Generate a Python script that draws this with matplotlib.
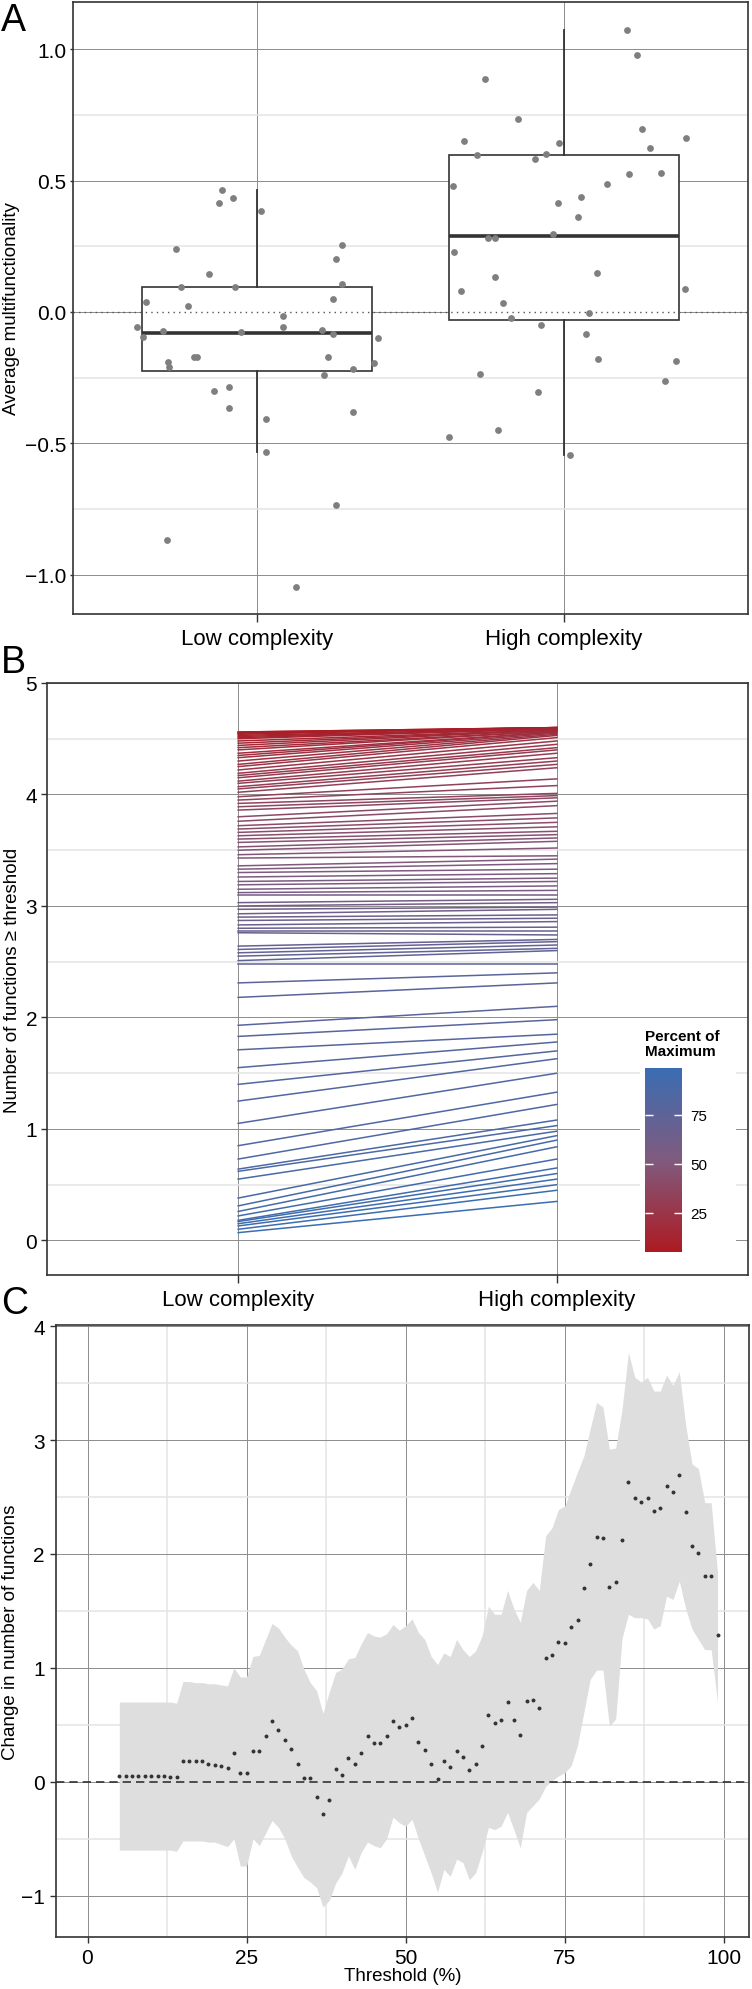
import numpy as np
import matplotlib
matplotlib.use("Agg")
import matplotlib.pyplot as plt
from matplotlib.ticker import MultipleLocator
from matplotlib.colors import LinearSegmentedColormap, Normalize
from matplotlib.cm import ScalarMappable
from matplotlib.patches import Rectangle

plt.rcParams['font.family'] = ['Liberation Sans', 'DejaVu Sans']

# ---- panel A: average multifunctionality per plot ----
groups = ["Low complexity", "High complexity"]

low_jitter = [-0.114, -0.123, -0.079, 0.013, -0.263, -0.156, -0.249, -0.071, -0.361, -0.226,
              0.277, 0.257, 0.278, 0.248, 0.083, -0.393, -0.372, -0.306, -0.051, 0.083,
              0.213, 0.247, 0.395, 0.380, -0.290, -0.287, -0.207, -0.196, 0.230, 0.217,
              0.313, -0.139, -0.091, -0.091, 0.313, 0.028, 0.028, 0.257, -0.294, 0.128]
low_values = [0.464, 0.413, 0.433, 0.383, 0.238, 0.146, 0.094, 0.094, 0.037, 0.023,
              0.254, 0.200, 0.106, 0.051, -0.016, -0.058, -0.094, -0.071, -0.077, -0.058,
              -0.068, -0.084, -0.100, -0.196, -0.190, -0.208, -0.172, -0.172, -0.172, -0.241,
              -0.219, -0.300, -0.286, -0.366, -0.380, -0.408, -0.534, -0.734, -0.867, -1.047]

high_jitter = [0.205, 0.238, -0.256, -0.149, 0.256, 0.397, -0.326, 0.279, -0.016, -0.282,
               -0.059, -0.095, 0.211, 0.317, 0.140, -0.360, 0.057, -0.020, 0.045, -0.036,
               -0.246, -0.225, -0.358, 0.108, -0.225, -0.335, 0.396, -0.199, 0.082, -0.174,
               -0.075, 0.072, 0.111, 0.365, -0.274, 0.328, -0.084, -0.215, -0.373, 0.019]
high_values = [1.072, 0.980, 0.885, 0.736, 0.696, 0.663, 0.650, 0.626, 0.643, 0.597,
               0.601, 0.582, 0.527, 0.529, 0.488, 0.480, 0.436, 0.416, 0.361, 0.295,
               0.283, 0.283, 0.229, 0.147, 0.134, 0.080, 0.087, 0.034, -0.005, -0.023,
               -0.048, -0.084, -0.181, -0.185, -0.235, -0.262, -0.303, -0.448, -0.478, -0.546]

# box summaries (q1, median, q3, whisker low, whisker high)
box_q1 = [-0.224, -0.030]
box_med = [-0.079, 0.288]
box_q3 = [0.095, 0.597]
box_lo = [-0.534, -0.546]
box_hi = [0.464, 1.072]

# ---- panel B: number of functions >= threshold, low vs high ----
thresholds = list(range(5, 100))
n_low = [4.56, 4.56, 4.55, 4.55, 4.54, 4.53, 4.52, 4.51, 4.50, 4.48,
         4.46, 4.44, 4.42, 4.40, 4.37, 4.35, 4.33, 4.30, 4.27, 4.25,
         4.22, 4.19, 4.17, 4.15, 4.12, 4.10, 4.07, 4.05, 4.02, 3.98,
         3.95, 3.92, 3.89, 3.86, 3.80, 3.76, 3.72, 3.69, 3.66, 3.63,
         3.60, 3.57, 3.53, 3.50, 3.46, 3.43, 3.36, 3.33, 3.30, 3.26,
         3.22, 3.19, 3.15, 3.12, 3.10, 3.03, 3.00, 2.97, 2.93, 2.90,
         2.87, 2.83, 2.80, 2.78, 2.76, 2.64, 2.61, 2.58, 2.55, 2.51,
         2.48, 2.31, 2.18, 1.93, 1.83, 1.71, 1.55, 1.40, 1.25, 1.05,
         0.85, 0.73, 0.64, 0.62, 0.55, 0.38, 0.31, 0.26, 0.22, 0.18,
         0.17, 0.15, 0.13, 0.10, 0.07]
n_high = [4.60, 4.60, 4.60, 4.60, 4.60, 4.59, 4.59, 4.59, 4.59, 4.58,
          4.58, 4.58, 4.57, 4.57, 4.56, 4.56, 4.55, 4.54, 4.53, 4.51,
          4.48, 4.45, 4.42, 4.40, 4.37, 4.33, 4.30, 4.27, 4.24, 4.14,
          4.08, 4.01, 3.99, 3.97, 3.94, 3.90, 3.83, 3.79, 3.75, 3.71,
          3.67, 3.64, 3.61, 3.58, 3.52, 3.45, 3.42, 3.38, 3.33, 3.29,
          3.25, 3.22, 3.18, 3.14, 3.10, 3.06, 3.03, 2.99, 2.97, 2.92,
          2.89, 2.86, 2.81, 2.78, 2.74, 2.70, 2.68, 2.65, 2.62, 2.60,
          2.48, 2.40, 2.31, 2.10, 1.98, 1.85, 1.78, 1.70, 1.63, 1.50,
          1.33, 1.22, 1.08, 1.03, 0.98, 0.94, 0.90, 0.84, 0.73, 0.65,
          0.60, 0.55, 0.50, 0.45, 0.35]

# ---- panel C: change in number of functions with CI ----
change = [0.05, 0.05, 0.05, 0.05, 0.05, 0.05, 0.05, 0.05, 0.04, 0.04,
          0.18, 0.18, 0.18, 0.18, 0.16, 0.15, 0.14, 0.12, 0.25, 0.08,
          0.08, 0.27, 0.27, 0.40, 0.53, 0.45, 0.37, 0.29, 0.16, 0.03,
          0.03, -0.13, -0.28, -0.16, 0.11, 0.06, 0.21, 0.16, 0.25, 0.40,
          0.34, 0.34, 0.40, 0.53, 0.48, 0.50, 0.56, 0.35, 0.28, 0.16,
          0.02, 0.18, 0.13, 0.27, 0.22, 0.10, 0.16, 0.31, 0.59, 0.52,
          0.54, 0.70, 0.54, 0.41, 0.71, 0.72, 0.65, 1.09, 1.11, 1.23,
          1.22, 1.36, 1.42, 1.70, 1.91, 2.15, 2.14, 1.71, 1.75, 2.12,
          2.63, 2.49, 2.46, 2.49, 2.38, 2.40, 2.60, 2.54, 2.69, 2.37,
          2.07, 2.01, 1.81, 1.81, 1.29]
ci_hi = [0.70, 0.70, 0.70, 0.70, 0.70, 0.70, 0.70, 0.70, 0.70, 0.69,
         0.88, 0.88, 0.87, 0.87, 0.86, 0.86, 0.85, 0.84, 1.00, 0.92,
         0.92, 1.10, 1.11, 1.25, 1.39, 1.35, 1.27, 1.20, 1.15, 0.99,
         0.87, 0.80, 0.60, 0.79, 0.96, 0.99, 1.08, 1.09, 1.21, 1.31,
         1.28, 1.27, 1.30, 1.38, 1.33, 1.37, 1.43, 1.31, 1.25, 1.10,
         1.03, 1.13, 1.10, 1.25, 1.16, 1.10, 1.15, 1.28, 1.54, 1.47,
         1.47, 1.68, 1.52, 1.40, 1.68, 1.75, 1.68, 2.16, 2.23, 2.39,
         2.42, 2.57, 2.72, 2.86, 3.10, 3.33, 3.29, 2.92, 2.93, 3.27,
         3.77, 3.55, 3.51, 3.55, 3.43, 3.43, 3.57, 3.48, 3.60, 3.13,
         2.79, 2.75, 2.45, 2.45, 1.84]
ci_lo = [-0.60, -0.60, -0.60, -0.60, -0.60, -0.60, -0.60, -0.60, -0.60, -0.61,
         -0.52, -0.52, -0.52, -0.52, -0.53, -0.53, -0.55, -0.57, -0.50, -0.74,
         -0.74, -0.50, -0.56, -0.45, -0.34, -0.40, -0.50, -0.65, -0.75, -0.84,
         -0.88, -0.93, -1.10, -1.04, -0.89, -0.80, -0.65, -0.77, -0.62, -0.53,
         -0.56, -0.58, -0.50, -0.31, -0.36, -0.39, -0.33, -0.50, -0.65, -0.80,
         -0.97, -0.77, -0.83, -0.68, -0.71, -0.86, -0.80, -0.62, -0.40, -0.42,
         -0.39, -0.27, -0.42, -0.58, -0.27, -0.21, -0.15, -0.04, 0.01, 0.05,
         0.08, 0.14, 0.32, 0.61, 0.90, 0.98, 0.98, 0.49, 0.55, 1.26,
         1.47, 1.44, 1.44, 1.43, 1.34, 1.37, 1.63, 1.60, 1.76, 1.52,
         1.34, 1.25, 1.16, 1.16, 0.70]

W, H = 752, 1990
fig = plt.figure(figsize=(W / 100, H / 100), dpi=100)


def rect(x0, y0, x1, y1):
    # pixel box (top-left origin) -> figure fraction
    return [x0 / W, 1 - y1 / H, (x1 - x0) / W, (y1 - y0) / H]


def style(ax, ymaj, ymin):
    for s in ax.spines.values():
        s.set_color('#333333')
        s.set_linewidth(1.2)
    ax.yaxis.set_major_locator(MultipleLocator(ymaj))
    ax.yaxis.set_minor_locator(MultipleLocator(ymin))
    ax.tick_params(which='major', labelsize=15, colors='#333333', labelcolor='black', width=1)
    ax.tick_params(which='minor', length=0)
    ax.grid(which='major', color='#8c8c8c', lw=0.7)
    ax.yaxis.grid(which='minor', color='#e4e4e4', lw=1.1)
    ax.set_axisbelow(True)


# ---------------- A ----------------
axA = fig.add_axes(rect(73, 3, 748, 615))
style(axA, 0.5, 0.25)
stats = []
for i in range(2):
    stats.append(dict(q1=box_q1[i], med=box_med[i], q3=box_q3[i],
                      whislo=box_lo[i], whishi=box_hi[i], fliers=[]))
axA.bxp(stats, positions=[1, 2], widths=0.75, patch_artist=True, showfliers=False,
        showcaps=False,
        boxprops=dict(facecolor='white', edgecolor='#333333', lw=1.2),
        medianprops=dict(color='#333333', lw=2.6),
        whiskerprops=dict(color='#333333', lw=1.3))
axA.axhline(0, color='#555555', lw=1.0, ls=(0, (1, 3)), zorder=3)
axA.scatter(1 + np.array(low_jitter), low_values, s=24, color='#7f7f7f', lw=0, zorder=4)
axA.scatter(2 + np.array(high_jitter), high_values, s=24, color='#7f7f7f', lw=0, zorder=4)
axA.set_xlim(0.4, 2.6)
axA.set_ylim(-1.15, 1.18)
axA.set_xticks([1, 2])
axA.set_xticklabels(groups, fontsize=16)
axA.tick_params(axis='x', length=6, pad=4)
axA.tick_params(axis='y', length=2, pad=3)

# ---------------- B ----------------
cmap = LinearSegmentedColormap.from_list('pct', ['#AD1A22', '#805A7E', '#3A6DB2'])
norm = Normalize(5, 99)
axB = fig.add_axes(rect(47, 684, 748, 1276))
style(axB, 1, 0.5)
for t, lo, hi in zip(thresholds, n_low, n_high):
    axB.plot([1, 2], [lo, hi], color=cmap(norm(t)), lw=1.1, zorder=2)
axB.set_xlim(0.4, 2.6)
axB.set_ylim(-0.31, 5.0)
axB.set_xticks([1, 2])
axB.set_xticklabels(groups, fontsize=16)
axB.tick_params(axis='x', length=6, pad=4)
axB.tick_params(axis='y', length=4, pad=3)

fig.patches.append(Rectangle((640 / W, 1 - 1262 / H), 96 / W, 237 / H,
                             transform=fig.transFigure, facecolor='white',
                             edgecolor='none', zorder=1))
cax = fig.add_axes(rect(645, 1069, 682, 1253))
cax.set_zorder(2)
cb = fig.colorbar(ScalarMappable(norm=norm, cmap=cmap), cax=cax, ticks=[25, 50, 75])
cb.outline.set_visible(False)
cax.minorticks_off()
cax.tick_params(direction='in', color='white', length=6, width=1, left=True, right=True,
                labelsize=11, pad=6)
fig.text(645 / W, 1 - 1030 / H, 'Percent of\nMaximum', fontsize=11, fontweight='bold',
         ha='left', va='top', linespacing=1.05, zorder=3)

# ---------------- C ----------------
axC = fig.add_axes(rect(56, 1326, 749, 1938))
style(axC, 1, 0.5)
axC.xaxis.set_major_locator(MultipleLocator(25))
axC.xaxis.set_minor_locator(MultipleLocator(12.5))
axC.xaxis.grid(which='minor', color='#e4e4e4', lw=1.1)
axC.fill_between(thresholds, ci_lo, ci_hi, color='#dedede', lw=0, zorder=1)
axC.axhline(0, color='#333333', lw=1.2, ls=(0, (5, 3)), zorder=2)
axC.scatter(thresholds, change, s=8, color='#333333', lw=0, zorder=3)
axC.set_xlim(-4.95, 103.95)
axC.set_ylim(-1.363, 4.01)
axC.tick_params(axis='x', length=4, pad=4)
axC.tick_params(axis='y', length=4, pad=4)
axC.set_xlabel('Threshold (%)', fontsize=13.5, labelpad=0)

# axis titles and panel letters
fig.text(12 / W, 1 - 309 / H, 'Average multifunctionality', rotation=90,
         ha='center', va='center', fontsize=13.5)
fig.text(13 / W, 1 - 980 / H, 'Number of functions \u2265 threshold', rotation=90,
         ha='center', va='center', fontsize=13.5)
fig.text(11 / W, 1 - 1632 / H, 'Change in number of functions', rotation=90,
         ha='center', va='center', fontsize=13.5)
for letter, ytop in [('A', 3), ('B', 645), ('C', 1286)]:
    fig.text(1 / W, 1 - ytop / H, letter, fontsize=27, ha='left', va='top')

fig.savefig('out.png', dpi=100)
